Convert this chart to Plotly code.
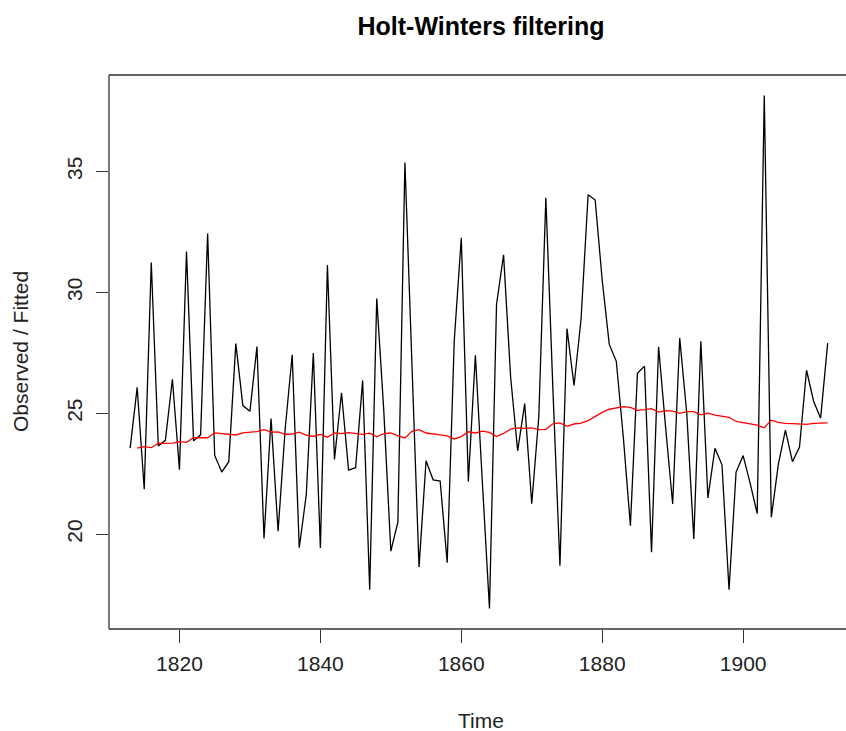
import plotly.graph_objects as go

# Observed series (annual values), 1813-1912
years = list(range(1813, 1913))
observed = [
    23.56, 26.07, 21.86, 31.24, 23.65, 23.88, 26.41, 22.67, 31.69, 23.86,
    24.11, 32.43, 23.26, 22.57, 23.00, 27.88, 25.32, 25.08, 27.76, 19.82,
    24.78, 20.12, 24.34, 27.42, 19.44, 21.63, 27.49, 19.43, 31.13, 23.09,
    25.85, 22.65, 22.75, 26.36, 17.70, 29.75, 25.10, 19.30, 20.50, 35.37,
    27.00, 18.64, 23.04, 22.25, 22.20, 18.82, 28.00, 32.26, 22.18, 27.40,
    22.10, 16.93, 29.50, 31.55, 26.50, 23.45, 25.40, 21.26, 24.87, 33.91,
    26.00, 18.70, 28.50, 26.15, 28.90, 34.04, 33.82, 30.50, 27.85, 27.15,
    24.00, 20.35, 26.65, 26.95, 19.25, 27.75, 24.40, 21.25, 28.11, 25.00,
    19.80, 27.98, 21.50, 23.55, 22.87, 17.70, 22.57, 23.25, 22.10, 20.85,
    38.14, 20.70, 22.90, 24.30, 23.00, 23.60, 26.78, 25.50, 24.80, 27.90,
]

# Fitted (filtered level), 1814-1912
fitted_years = list(range(1814, 1913))
fitted = [
    23.560, 23.620, 23.578, 23.763, 23.760, 23.763, 23.827, 23.799, 23.989, 23.986,
    23.989, 24.192, 24.170, 24.131, 24.104, 24.195, 24.222, 24.243, 24.327, 24.219,
    24.232, 24.133, 24.138, 24.217, 24.102, 24.042, 24.125, 24.012, 24.184, 24.158,
    24.199, 24.161, 24.127, 24.181, 24.025, 24.163, 24.186, 24.068, 23.982, 24.256,
    24.322, 24.185, 24.158, 24.112, 24.066, 23.939, 24.037, 24.235, 24.186, 24.263,
    24.211, 24.036, 24.167, 24.345, 24.397, 24.374, 24.399, 24.323, 24.337, 24.567,
    24.602, 24.460, 24.557, 24.596, 24.699, 24.874, 25.039, 25.168, 25.230, 25.274,
    25.241, 25.121, 25.155, 25.196, 25.050, 25.113, 25.093, 24.998, 25.071, 25.067,
    24.937, 25.008, 24.921, 24.886, 24.835, 24.661, 24.608, 24.573, 24.511, 24.400,
    24.718, 24.628, 24.584, 24.574, 24.553, 24.538, 24.580, 24.599, 24.602,
]

x_ticks = [1820, 1840, 1860, 1880, 1900]
y_ticks = [20, 25, 30, 35]

FONT = "Liberation Sans, Arial, Helvetica, sans-serif"
W, H = 846, 731
ML, MT, MB = 109, 75, 102

fig = go.Figure()
fig.add_trace(go.Scatter(x=years, y=observed, mode="lines",
                         line=dict(color="black", width=1.3), showlegend=False))
fig.add_trace(go.Scatter(x=fitted_years, y=fitted, mode="lines",
                         line=dict(color="red", width=1.3), showlegend=False))

fig.update_layout(
    width=W, height=H,
    margin=dict(l=ML, r=0, t=MT, b=MB, pad=0),
    paper_bgcolor="white", plot_bgcolor="white",
    font=dict(family=FONT, color="black"),
    title=dict(text="<b>Holt-Winters filtering</b>", font=dict(size=25, family=FONT, color="black"),
               x=481 / W, xanchor="center", xref="container",
               y=1 - 26 / H, yanchor="middle", yref="container"),
    xaxis=dict(range=[1810.0, 1914.6], tickvals=x_ticks, ticktext=[str(v) for v in x_ticks],
               ticks="outside", ticklen=13, tickwidth=1, tickcolor="#333",
               showgrid=False, zeroline=False, showline=False,
               tickfont=dict(size=21, family=FONT, color="#222"), ticklabelstandoff=3),
    yaxis=dict(range=[16.08, 38.99], tickvals=y_ticks, ticktext=[str(v) for v in y_ticks],
               ticks="outside", ticklen=12, tickwidth=1, tickcolor="#333",
               showgrid=False, zeroline=False, showline=False, tickangle=-90,
               tickfont=dict(size=21, family=FONT, color="#222"), ticklabelstandoff=6),
    shapes=[
        dict(type="line", xref="paper", yref="paper", x0=0, x1=0, y0=0, y1=1,
             line=dict(color="#333", width=1.3)),
        dict(type="line", xref="paper", yref="paper", x0=0, x1=1, y0=1, y1=1,
             line=dict(color="#333", width=1.3)),
        dict(type="line", xref="paper", yref="paper", x0=0, x1=1, y0=0, y1=0,
             line=dict(color="#333", width=1.3)),
    ],
    annotations=[
        dict(text="Time", xref="paper", yref="paper",
             x=(481 - ML) / (W - ML), y=-(720 - (H - MB)) / (H - MT - MB),
             xanchor="center", yanchor="middle", showarrow=False,
             font=dict(size=21, family=FONT, color="#222")),
        dict(text="Observed / Fitted", xref="paper", yref="paper",
             x=-(ML - 20) / (W - ML), y=0.5, textangle=-90,
             xanchor="center", yanchor="middle", showarrow=False,
             font=dict(size=21, family=FONT, color="#222")),
    ],
)

fig.write_html("out.html")
